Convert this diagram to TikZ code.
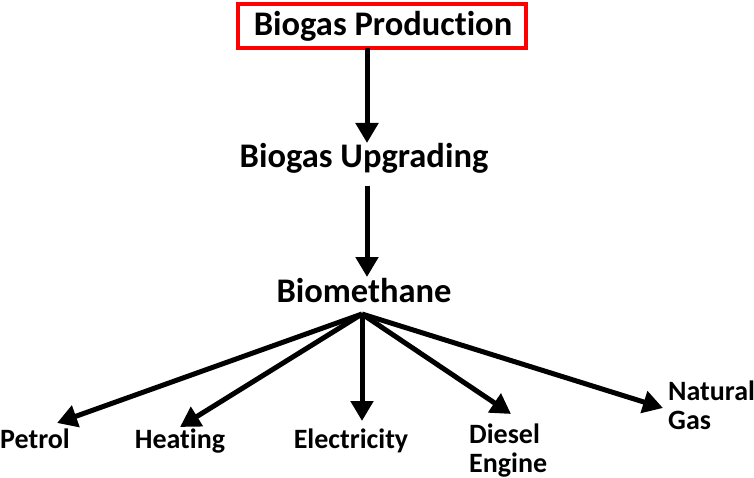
\documentclass[tikz,border=0pt]{standalone}
\usepackage{fontspec}
\setmainfont{Carlito}[Ligatures={NoCommon}]
\usetikzlibrary{arrows.meta}
\tikzset{
  lbl/.style={font=\bfseries\fontsize{28}{29}\selectfont, inner sep=0pt},
  big/.style={font=\bfseries\fontsize{34.5}{40}\selectfont, inner sep=0pt},
  arr/.style={line width=5pt, -{Triangle[length=20pt,width=22pt]}},
}
\begin{document}
\begin{tikzpicture}[x=1pt,y=-1pt]
\useasboundingbox (0,0) rectangle (754,478);
\draw[red, line width=4pt] (238,4) rectangle (526,48);
\node[big, anchor=base] (prod) at (383,36) {Biogas Production};
\node[big, anchor=base] (upg) at (364,168) {Biogas Upgrading};
\node[big, anchor=base] (bio) at (364,302) {Biomethane};
\node[lbl, anchor=base west] (petrol) at (0,448) {Petrol};
\node[lbl, anchor=base] (heat) at (180,448) {Heating};
\node[lbl, anchor=base] (elec) at (351,448) {Electricity};
\node[lbl, align=left, anchor=base west] (diesel) at (469,472) {Diesel\\Engine};
\node[lbl, align=left, anchor=base west] (natgas) at (668,429) {Natural\\Gas};
\coordinate (hub) at (362,314);
\coordinate (s1) at (367,48);
\coordinate (t1) at (367,143);
\coordinate (s2) at (367,186);
\coordinate (t2) at (367,277);
\coordinate (tp) at (57,423);
\coordinate (th) at (180,427);
\coordinate (te) at (362,421);
\coordinate (td) at (511,414);
\coordinate (tn) at (663,408);
\draw[arr] (s1) -- (t1);
\draw[arr] (s2) -- (t2);
\draw[arr] (hub) -- (tp);
\draw[arr] (hub) -- (th);
\draw[arr] (hub) -- (te);
\draw[arr] (hub) -- (td);
\draw[arr] (hub) -- (tn);
\end{tikzpicture}
\end{document}
